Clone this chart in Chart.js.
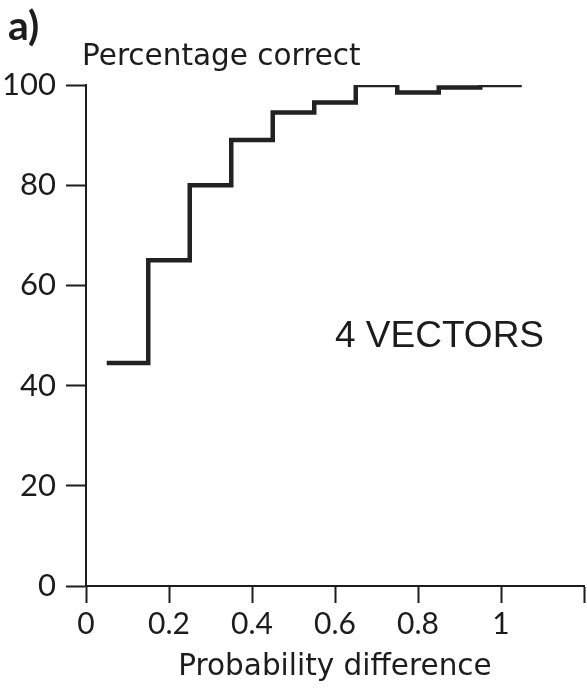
<!DOCTYPE html>
<html>
<head>
<meta charset="utf-8">
<title>Percentage correct vs probability difference</title>
<script src="https://cdn.jsdelivr.net/npm/chart.js@4.4.1/dist/chart.umd.min.js"></script>
<style>
  html, body { margin: 0; padding: 0; background: #fff; }
  #wrap { position: relative; width: 587px; height: 690px; }
</style>
</head>
<body>
<div id="wrap"><canvas id="stepChart" width="587" height="690"></canvas></div>
<script>
// bin centres on the probability-difference axis and the score in each bin
const probDiff = [0.1, 0.2, 0.3, 0.4, 0.5, 0.6, 0.7, 0.8, 0.9, 1.0];
const pctCorrect = [44.5, 65, 80, 89, 94.5, 96.5, 100, 98.5, 99.5, 100];
const binWidth = 0.1;

const xTickValues = [0, 0.2, 0.4, 0.6, 0.8, 1.0, 1.2];
const xTickLabels = ['0', '0.2', '0.4', '0.6', '0.8', '1', ''];
const yTickLabels = ['0', '20', '40', '60', '80', '100'];

const ink = '#1c1c1c';
const numFont = 'Lato, "Open Sans", sans-serif';
const wordFont = '"DejaVu Sans", Verdana, sans-serif';

// histogram-style outline: left edge of each bin, plus the right edge of the last one
const stepPoints = probDiff.map((c, i) => ({ x: c - binWidth / 2, y: pctCorrect[i] }));
stepPoints.push({ x: probDiff[probDiff.length - 1] + binWidth / 2, y: pctCorrect[pctCorrect.length - 1] });

// free-standing text: panel letter, y-axis caption and the in-plot note
const textLabels = {
  id: 'textLabels',
  afterDraw(chart) {
    const ctx = chart.ctx;
    const { x, y } = chart.scales;
    ctx.save();
    ctx.fillStyle = ink;
    ctx.textBaseline = 'alphabetic';
    ctx.textAlign = 'left';

    ctx.font = 'bold 41px ' + numFont;
    ctx.fillText('a)', 8, 40);

    ctx.font = '29.5px ' + wordFont;
    ctx.fillText('Percentage correct', x.left - 4, 65);

    ctx.font = '37px "Liberation Sans", Arial, sans-serif';
    ctx.fillText('4 VECTORS', x.getPixelForValue(0.6), y.getPixelForValue(47.7));
    ctx.restore();
  }
};

const ctx = document.getElementById('stepChart');
new Chart(ctx, {
  type: 'line',
  data: {
    datasets: [{
      data: stepPoints,
      stepped: 'before',
      borderColor: '#222',
      borderWidth: 4.5,
      pointRadius: 0,
      fill: false
    }]
  },
  options: {
    responsive: false,
    animation: false,
    layout: { padding: { top: 85, right: 1, left: 0, bottom: 0 } },
    plugins: {
      legend: { display: false },
      tooltip: { enabled: false }
    },
    scales: {
      x: {
        type: 'linear',
        min: 0,
        max: 1.2,
        afterBuildTicks(scale) {
          scale.ticks = xTickValues.map(v => ({ value: v }));
        },
        afterFit(scale) { scale.height = 104; },
        border: { display: true, color: ink, width: 2 },
        grid: {
          drawOnChartArea: false,
          drawTicks: true,
          tickLength: 17,
          tickWidth: 2,
          tickColor: ink
        },
        ticks: {
          color: ink,
          font: { family: numFont, size: 30 },
          padding: 3,
          maxRotation: 0,
          callback: (v, i) => xTickLabels[i]
        },
        title: {
          display: true,
          text: 'Probability difference',
          color: ink,
          font: { family: wordFont, size: 29.5 },
          padding: { top: 0, bottom: 5 }
        }
      },
      y: {
        type: 'linear',
        min: 0,
        max: 100,
        ticks: {
          stepSize: 20,
          color: ink,
          font: { family: numFont, size: 31 },
          padding: 10,
          callback: (v, i) => yTickLabels[i]
        },
        afterFit(scale) { scale.width = 86; },
        border: { display: true, color: ink, width: 2 },
        grid: {
          drawOnChartArea: false,
          drawTicks: true,
          tickLength: 20,
          tickWidth: 2,
          tickColor: ink
        }
      }
    }
  },
  plugins: [textLabels]
});
</script>
</body>
</html>
